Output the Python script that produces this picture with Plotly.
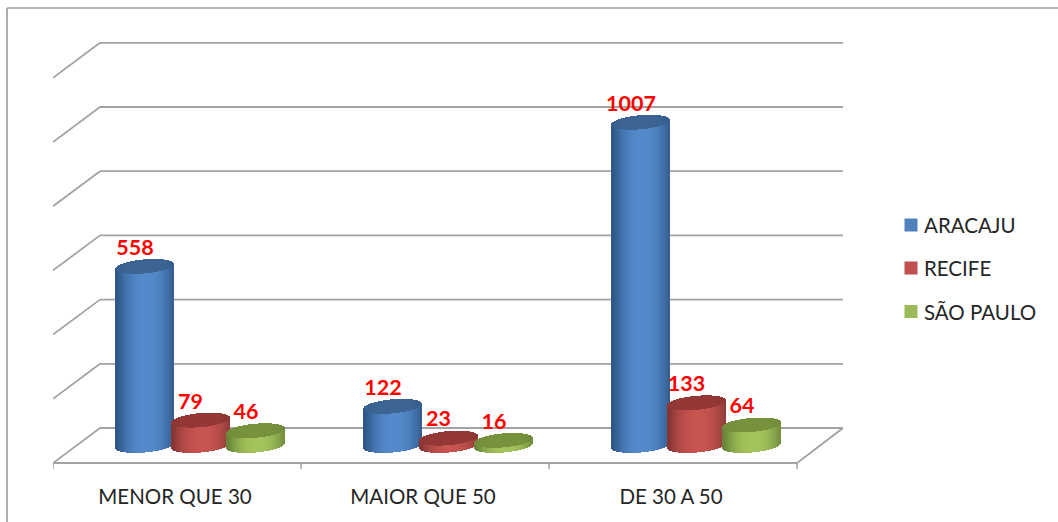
import math
import plotly.graph_objects as go

# ---- data ----
categories = ["MENOR QUE 30", "MAIOR QUE 50", "DE 30 A 50"]
series_names = ["ARACAJU", "RECIFE", "SÃO PAULO"]
aracaju = [558, 122, 1007]
recife = [79, 23, 133]
sao_paulo = [46, 16, 64]
grid_values = [0, 200, 400, 600, 800, 1000, 1200]

# ---- styles / geometry ----
W, H = 1058, 522
PX_L, PX_R, PX_T, PX_B = 53, 843, 30, 480
CAT_PX, CAT0_PX = 248.0, 175.0      # px per category, px of category 0
VAL_PX, BASE_PX = 0.321, 445.5      # px per value, px of value 0
FONT = "Lato"
colors = {
    "ARACAJU": dict(main="#4F81BD", hi=(84, 138, 204), lo=(46, 86, 134), top=(60, 101, 148)),
    "RECIFE": dict(main="#C0504D", hi=(200, 84, 80), lo=(134, 54, 52), top=(148, 56, 54)),
    "SÃO PAULO": dict(main="#9BBB59", hi=(163, 196, 92), lo=(104, 132, 56), top=(118, 146, 60)),
}
offset_px = [-30, 25.5, 81]
HALF_W, HALF_H, SHEAR = 29, 7, 2.5
STRIPS = 58
legend_rows_px = [225, 268, 311.5]

dx = lambda px: px / CAT_PX
dy = lambda px: px / VAL_PX
x_of = lambda px: (px - CAT0_PX) / CAT_PX
y_of = lambda px: (BASE_PX - px) / VAL_PX
xp = lambda px: (px - PX_L) / (PX_R - PX_L)
yp = lambda px: (PX_B - px) / (PX_B - PX_T)


def mix(a, b, t):
    return "rgb(%d,%d,%d)" % tuple(round(a[i] + (b[i] - a[i]) * t) for i in range(3))


fig = go.Figure()
all_values = [aracaju, recife, sao_paulo]

for s, (name, vals) in enumerate(zip(series_names, all_values)):
    c = colors[name]
    centers = [i + dx(offset_px[s]) for i in range(len(categories))]
    # the plain value bars
    fig.add_trace(go.Bar(
        name=name, x=centers, y=vals, base=0, width=dx(2 * HALF_W - 10),
        marker=dict(color=c["main"], line=dict(width=0)),
        hoverinfo="skip",
    ))
    # shading strips: cylinder body, then its top face
    sx, sb, sy, sw, sc = [], [], [], [], []
    for cx, v in zip(centers, vals):
        tops = []
        for k in range(STRIPS):
            u = -1 + (2 * k + 1) / STRIPS
            root = math.sqrt(max(0, 1 - u * u))
            shear = SHEAR * u
            low = -HALF_H * root + shear        # px above (+) the centre, lower rim
            up = HALF_H * root + shear          # px above (+) the centre, upper rim
            t = max(0.0, 1 - abs(u - 0.08) ** 2.2)
            sx.append(cx + dx(HALF_W) * u)
            sb.append(dy(low))
            sy.append(v)
            sw.append(dx(2 * HALF_W / STRIPS) * 1.15)
            sc.append(mix(c["lo"], c["hi"], t))
            tops.append((cx + dx(HALF_W) * u, v + dy(low), dy(up - low), mix(c["top"], c["lo"], 0.5 * abs(u) ** 3)))
        for tx, tb, th, tc in tops:
            sx.append(tx)
            sb.append(tb)
            sy.append(th)
            sw.append(dx(2 * HALF_W / STRIPS) * 1.15)
            sc.append(tc)
    fig.add_trace(go.Bar(
        x=sx, y=sy, base=sb, width=sw, showlegend=False, hoverinfo="skip",
        marker=dict(color=sc, line=dict(width=0)),
    ))

# data labels
for s, (name, vals) in enumerate(zip(series_names, all_values)):
    fig.add_trace(go.Scatter(
        x=[i + dx(offset_px[s] - 10) for i in range(len(categories))],
        y=[v + dy(17) for v in vals],
        mode="text", text=[str(v) for v in vals], textposition="middle center",
        textfont=dict(family=FONT, size=21.5, color="#FF0000", weight="bold"),
        showlegend=False, hoverinfo="skip",
    ))

# the 3-D box: back wall grid, side lines, floor
GRID = dict(color="#a3a3a3", width=1.8)
DEPTH_Y = dy(17.5)
shapes = []
for v in grid_values:
    shapes.append(dict(type="line", xref="x", yref="y", layer="below", line=GRID,
                       x0=x_of(100), x1=x_of(843), y0=v + DEPTH_Y, y1=v + DEPTH_Y))
    shapes.append(dict(type="line", xref="x", yref="y", layer="below", line=GRID,
                       x0=x_of(53), x1=x_of(100), y0=v - DEPTH_Y, y1=v + DEPTH_Y))
shapes.append(dict(type="line", xref="x", yref="y", layer="below", line=GRID,
                   x0=x_of(53), x1=x_of(797), y0=-DEPTH_Y, y1=-DEPTH_Y))
shapes.append(dict(type="line", xref="x", yref="y", layer="below", line=GRID,
                   x0=x_of(797), x1=x_of(843), y0=-DEPTH_Y, y1=DEPTH_Y))
for i in range(len(categories) + 1):
    tick = x_of(53) + i * 1.0
    shapes.append(dict(type="line", xref="x", yref="y", layer="below", line=dict(color="#a3a3a3", width=1.5),
                       x0=tick, x1=tick, y0=-DEPTH_Y, y1=-DEPTH_Y - dy(6)))
# outer chart frame (top and left edges only are in view)
FRAME = dict(color="#9c9c9c", width=1.6)
shapes.append(dict(type="line", xref="paper", yref="paper", layer="below", line=FRAME,
                   x0=xp(7), x1=xp(W), y0=yp(8), y1=yp(8)))
shapes.append(dict(type="line", xref="paper", yref="paper", layer="below", line=FRAME,
                   x0=xp(7), x1=xp(7), y0=yp(8), y1=yp(H)))

# legend: square swatches and names
annotations = []
for name, row in zip(series_names, legend_rows_px):
    shapes.append(dict(type="rect", xref="paper", yref="paper", layer="above",
                       x0=xp(904.5), x1=xp(917.5), y0=yp(row - 6.5), y1=yp(row + 6.5),
                       fillcolor=colors[name]["main"], line=dict(width=0)))
    annotations.append(dict(xref="paper", yref="paper", x=xp(923), y=yp(row), text=name, showarrow=False,
                            xanchor="left", yanchor="middle", xshift=-1,
                            font=dict(family=FONT, size=20.5, color="#262626")))

fig.update_layout(
    width=W, height=H, autosize=False,
    paper_bgcolor="white", plot_bgcolor="white",
    margin=dict(l=PX_L, r=W - PX_R, t=PX_T, b=H - PX_B, pad=0),
    barmode="overlay", bargap=0,
    shapes=shapes, annotations=annotations,
    font=dict(family=FONT, size=20.5, color="#262626"),
    xaxis=dict(range=[x_of(PX_L), x_of(PX_R)], tickmode="array", tickvals=list(range(len(categories))),
               ticktext=categories, showgrid=False, zeroline=False, showline=False, ticks="",
               ticklabelstandoff=2, tickfont=dict(family=FONT, size=20.5, color="#262626"), fixedrange=True),
    yaxis=dict(range=[y_of(PX_B), y_of(PX_T)], visible=False, fixedrange=True),
    showlegend=False,
)

fig.write_html("out.html", post_script="document.body.style.margin='0';document.documentElement.style.overflow='hidden';",
               config=dict(displayModeBar=False))
